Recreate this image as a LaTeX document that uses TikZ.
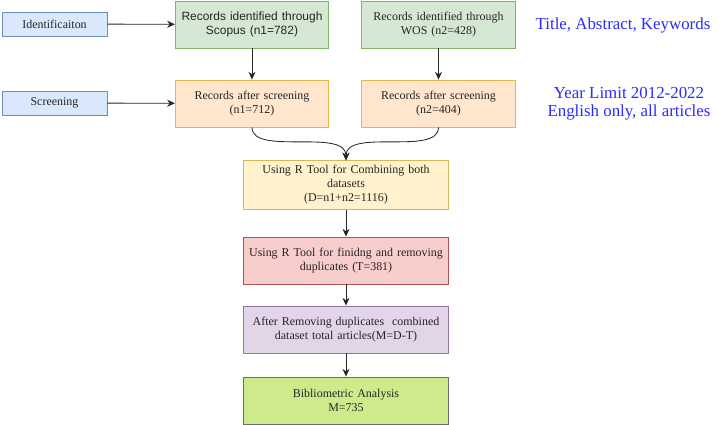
\documentclass[tikz,border=0pt]{standalone}
\usepackage{fontspec}
\setmainfont{Liberation Serif}
\newfontfamily\arialfont{Liberation Sans}
\usepackage{tikz}
\usetikzlibrary{arrows.meta,positioning}
\definecolor{BlueF}{HTML}{DAE8FC}
\definecolor{BlueD}{HTML}{6C8EBF}
\definecolor{GreenF}{HTML}{D5E8D4}
\definecolor{GreenD}{HTML}{82B366}
\definecolor{OrangeF}{HTML}{FFE6CC}
\definecolor{OrangeD}{HTML}{D79B00}
\definecolor{YellowF}{HTML}{FFF2CC}
\definecolor{YellowD}{HTML}{D6B656}
\definecolor{RedF}{HTML}{F8CECC}
\definecolor{RedD}{HTML}{B85450}
\definecolor{PurpleF}{HTML}{E1D5E7}
\definecolor{PurpleD}{HTML}{9673A6}
\definecolor{LimeF}{HTML}{CDEB8B}
\definecolor{LimeD}{HTML}{6B6E70}
\definecolor{Label}{HTML}{2B2BFF}
\definecolor{Ink}{HTML}{262626}

\begin{document}
\begin{tikzpicture}[x=0.025cm,y=-0.025cm,
    phase/.style={draw=BlueD,fill=BlueF,line width=0.6pt,minimum width=2.625cm,
      minimum height=0.6cm,font=\fontsize{8.5}{10}\selectfont,text=Ink},
    source/.style={line width=0.6pt,minimum width=3.75cm,minimum height=1.175cm,
      text width=3.6cm,align=center,font=\fontsize{8.5}{10}\selectfont,text=Ink},
    stage/.style={line width=0.6pt,minimum width=5.1cm,minimum height=1.175cm,
      text width=4.9cm,align=center,font=\fontsize{8.5}{10}\selectfont,text=Ink},
    note/.style={text=Label,align=center,font=\fontsize{12}{12.5}\selectfont},
    flow/.style={draw=Ink,line width=0.6pt,-{Stealth[length=5.5pt,width=5pt]}}
  ]
  \useasboundingbox (0,0) rectangle (719,425);

  % phases on the left
  \node[phase] (ident) at (54.5,24) {Identificaiton};
  \node[phase] (screen) at (54.5,103) {Screening};

  % two databases
  \node[source,draw=GreenD,fill=GreenF,font=\arialfont\fontsize{8.5}{10}\selectfont]
    (scopus) at (252,24.5) {Records identified through\\Scopus (n1=782)};
  \node[source,draw=GreenD,fill=GreenF] (wos) at (438.5,24.5)
    {Records identified through\\WOS (n2=428)};
  \node[source,draw=OrangeD!70,fill=OrangeF] (scr1) at (252,103.5)
    {Records after screening\\(n1=712)};
  \node[source,draw=OrangeD!70,fill=OrangeF] (scr2) at (438.5,103.5)
    {Records after screening\\(n2=404)};

  % merged pipeline
  \node[stage,draw=YellowD,fill=YellowF] (combine) at (346,185)
    {Using R Tool for Combining both\\datasets\\(D=n1+n2=1116)};
  \node[stage,draw=RedD,fill=RedF] (dups) at (346,260.5)
    {Using R Tool for finidng and removing\\duplicates (T=381)};
  \node[stage,draw=PurpleD,fill=PurpleF] (clean) at (346,329.5)
    {After Removing duplicates\ \ combined\\dataset total articles(M=D-T)};
  \node[stage,draw=LimeD,fill=LimeF] (biblio) at (346,400.5)
    {Bibliometric Analysis\\M=735};

  % criteria
  \node[note] (crit1) at (623,25) {Title, Abstract, Keywords};
  \node[note] (crit2) at (629,103.5) {Year Limit 2012-2022\\English only, all articles};

  \draw[flow] (ident) -- (scopus);
  \draw[flow] (screen) -- (scr1);
  \draw[flow] (scopus) -- (scr1);
  \draw[flow] (wos) -- (scr2);
  \draw[flow] (scr1.south) .. controls (252,156) and (346,128) .. (combine.north);
  \draw[flow] (scr2.south) .. controls (438.5,156) and (346,128) .. (combine.north);
  \draw[flow] (combine) -- (dups);
  \draw[flow] (dups) -- (clean);
  \draw[flow] (clean) -- (biblio);
\end{tikzpicture}
\end{document}
